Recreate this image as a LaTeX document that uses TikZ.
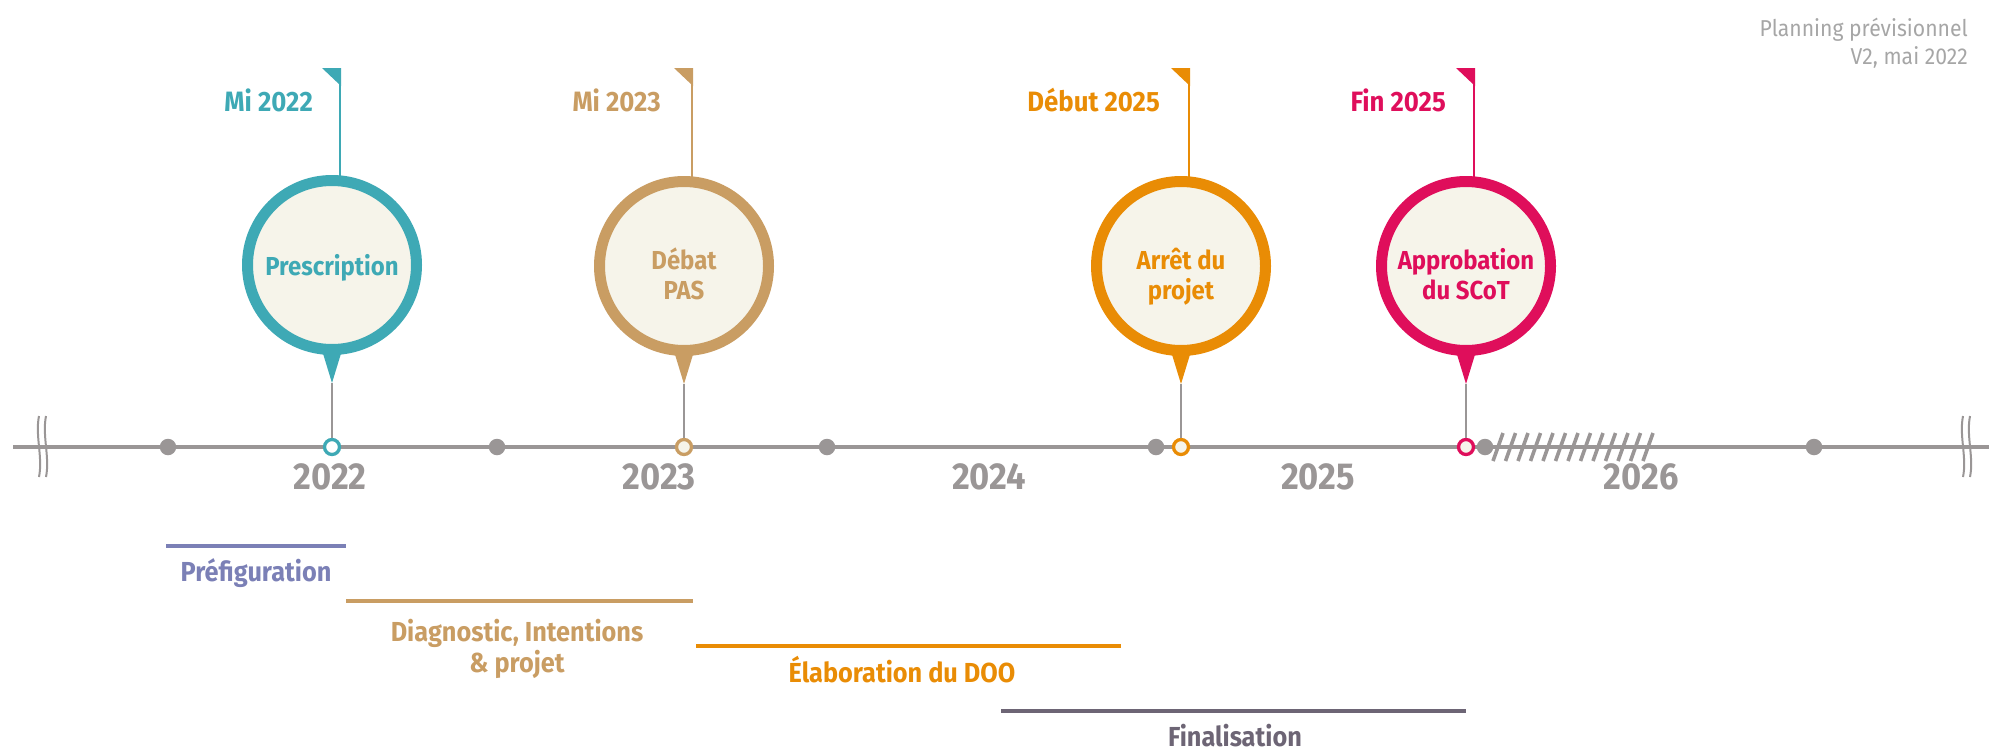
\documentclass[tikz,border=0pt]{standalone}
\usepackage{fontspec}
\setmainfont{Fira Sans}[FakeStretch=0.92]
\usetikzlibrary{calc}
\definecolor{cteal}{HTML}{3EA9B5}
\definecolor{ctan}{HTML}{C99D63}
\definecolor{corange}{HTML}{E98C05}
\definecolor{ccrimson}{HTML}{DF0E5B}
\definecolor{cgray}{HTML}{9A9696}
\definecolor{ccream}{HTML}{F6F4EA}
\definecolor{cviolet}{HTML}{7B80B6}
\definecolor{cdark}{HTML}{6D6575}
\definecolor{clight}{HTML}{A6A6A6}
\tikzset{
  bubble/.style={circle, draw=#1, fill=ccream, line width=11pt, minimum size=169pt, inner sep=0pt},
  bubbletext/.style={text=#1, inner sep=0pt, align=center, font=\bfseries\fontsize{26}{30}\selectfont},
  marker/.style={circle, draw=#1, fill=ccream, line width=3.3pt, minimum size=15pt, inner sep=0pt},
  stem/.style={draw=cgray, line width=2.3pt},
  pole/.style={draw=#1, line width=2pt},
  datelbl/.style={anchor=base east, text=#1, inner sep=0pt, font=\bfseries\fontsize{28}{30}\selectfont},
  yearlbl/.style={anchor=base, text=cgray, inner sep=0pt, font=\bfseries\fontsize{37.5}{40}\selectfont},
  halfdot/.style={circle, fill=cgray, minimum size=16.5pt, inner sep=0pt},
  axis/.style={draw=cgray, line width=4.5pt},
  brk/.style={draw=cgray, line width=2pt},
  phasebar/.style={draw=#1, line width=4.5pt},
  phaselbl/.style={text=#1, inner sep=0pt, align=center, font=\bfseries\fontsize{27.5}{31}\selectfont},
  hatch/.style={draw=cgray, line width=3.6pt},
  note/.style={anchor=north east, text=clight, inner sep=0pt, align=right, font=\fontsize{23}{28}\selectfont},
}
\begin{document}
\begin{tikzpicture}[x=1pt,y=-1pt]
\useasboundingbox (0,0) rectangle (1989,750);
% top-right note
\node[note] (note) at (1968,18) {Planning prévisionnel\\V2, mai 2022};
% axis
\coordinate (axL) at (13,447);
\coordinate (axR) at (1989,447);
\draw[axis] (axL) -- (axR);
\draw[brk] (39,416) .. controls (35,436) and (43,457) .. (39,477);
\draw[brk] (46,416) .. controls (42,436) and (50,457) .. (46,477);
\draw[brk] (1963,416) .. controls (1959,436) and (1967,457) .. (1963,477);
\draw[brk] (1970,416) .. controls (1966,436) and (1974,457) .. (1970,477);
% hatch
\foreach \i in {0,...,12} {
  \draw[hatch] ({1493+12.5*\i},461) -- ({1503+12.5*\i},433);
}
% half-year dots
\foreach \x [count=\i] in {168,497,827,1156,1485,1814} {
  \node[halfdot] (d\i) at (\x,447) {};
}
% years
\node[yearlbl] (y2022) at (330,489) {2022};
\node[yearlbl] (y2023) at (659,489) {2023};
\node[yearlbl] (y2024) at (989,489) {2024};
\node[yearlbl] (y2025) at (1318,489) {2025};
\node[yearlbl] (y2026) at (1641,489) {2026};

% ---------- Prescription
\node[bubble=cteal] (P) at (332,265) {};
\node[bubbletext=cteal, anchor=base] (Pl) at (332,275) {Prescription};
\coordinate (Ptip) at ($(P.center)+(0,118)$);
\fill[cteal] ($(P.center)+(-11,82)$) -- ($(P.center)+(11,82)$) -- (Ptip) -- cycle;
\node[marker=cteal, fill=white] (Pm) at (332,447) {};
\draw[stem] (Ptip) -- (Pm);
\coordinate (Pf) at (340,68);
\draw[pole=cteal] ($(P.north -| Pf)+(0,6)$) -- (Pf);
\fill[cteal] ($(Pf)+(-18,0)$) -- ($(Pf)+(1,0)$) -- ($(Pf)+(1,18)$) -- cycle;
\node[datelbl=cteal] (Pd) at ($(Pf)+(-27,43)$) {Mi 2022};

% ---------- Débat PAS
\node[bubble=ctan] (D) at (684,266) {};
\node[bubbletext=ctan, anchor=north] (Dl) at (684,248) {Débat\\PAS};
\coordinate (Dtip) at ($(D.center)+(0,118)$);
\fill[ctan] ($(D.center)+(-11,82)$) -- ($(D.center)+(11,82)$) -- (Dtip) -- cycle;
\node[marker=ctan] (Dm) at (684,447) {};
\draw[stem] (Dtip) -- (Dm);
\coordinate (Df) at (692,68);
\draw[pole=ctan] ($(D.north -| Df)+(0,6)$) -- (Df);
\fill[ctan] ($(Df)+(-18,0)$) -- ($(Df)+(1,0)$) -- ($(Df)+(1,18)$) -- cycle;
\node[datelbl=ctan] (Dd) at ($(Df)+(-31,43)$) {Mi 2023};

% ---------- Arrêt du projet
\node[bubble=corange] (A) at (1181,266) {};
\node[bubbletext=corange, anchor=north] (Al) at (1181,248) {Arrêt du\\projet};
\coordinate (Atip) at ($(A.center)+(0,118)$);
\fill[corange] ($(A.center)+(-11,82)$) -- ($(A.center)+(11,82)$) -- (Atip) -- cycle;
\node[marker=corange] (Am) at (1181,447) {};
\draw[stem] (Atip) -- (Am);
\coordinate (Af) at (1189,68);
\draw[pole=corange] ($(A.north -| Af)+(0,6)$) -- (Af);
\fill[corange] ($(Af)+(-18,0)$) -- ($(Af)+(1,0)$) -- ($(Af)+(1,18)$) -- cycle;
\node[datelbl=corange] (Ad) at ($(Af)+(-29,43)$) {Début 2025};

% ---------- Approbation du SCoT
\node[bubble=ccrimson] (F) at (1466,266) {};
\node[bubbletext=ccrimson, anchor=north] (Fl) at (1466,248) {Approbation\\du SCoT};
\coordinate (Ftip) at ($(F.center)+(0,118)$);
\fill[ccrimson] ($(F.center)+(-11,82)$) -- ($(F.center)+(11,82)$) -- (Ftip) -- cycle;
\node[marker=ccrimson] (Fm) at (1466,447) {};
\draw[stem] (Ftip) -- (Fm);
\coordinate (Ff) at (1474,68);
\draw[pole=ccrimson] ($(F.north -| Ff)+(0,6)$) -- (Ff);
\fill[ccrimson] ($(Ff)+(-18,0)$) -- ($(Ff)+(1,0)$) -- ($(Ff)+(1,18)$) -- cycle;
\node[datelbl=ccrimson] (Fd) at ($(Ff)+(-28,43)$) {Fin 2025};

% ---------- phases
\coordinate (b1s) at (166,546); \coordinate (b1e) at (346,546);
\draw[phasebar=cviolet] (b1s) -- (b1e);
\node[phaselbl=cviolet, anchor=base] (l1) at (256,581) {Préfiguration};

\coordinate (b2s) at (346,601); \coordinate (b2e) at (693,601);
\draw[phasebar=ctan] (b2s) -- (b2e);
\node[phaselbl=ctan, anchor=north] (l2) at (517,619) {Diagnostic, Intentions\\\& projet};

\coordinate (b3s) at (696,646); \coordinate (b3e) at (1121,646);
\draw[phasebar=corange] (b3s) -- (b3e);
\node[phaselbl=corange, anchor=base] (l3) at (902,682) {Élaboration du DOO};

\coordinate (b4s) at (1001,711); \coordinate (b4e) at (1466,711);
\draw[phasebar=cdark] (b4s) -- (b4e);
\node[phaselbl=cdark, anchor=base] (l4) at (1235,746) {Finalisation};
\end{tikzpicture}
\end{document}
